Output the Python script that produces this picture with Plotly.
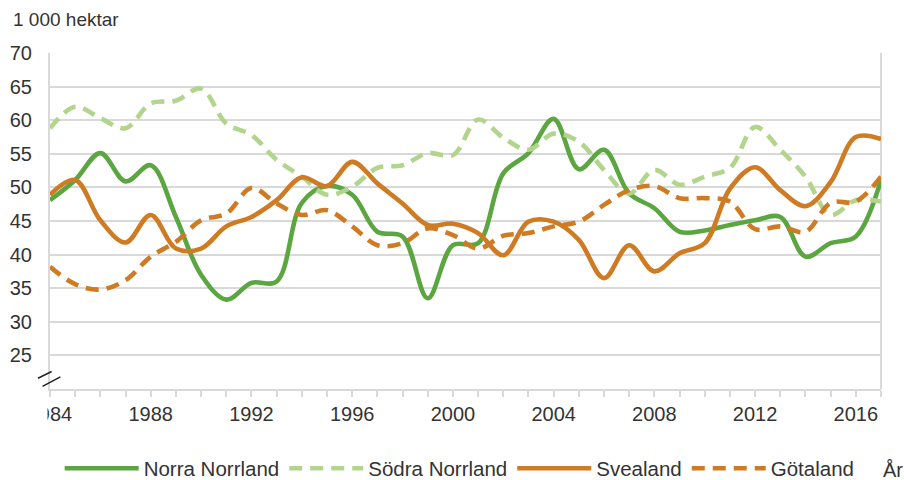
import plotly.graph_objects as go

years = list(range(1984, 2018))

norra_norrland = [48.1, 51.1, 55.1, 50.9, 53.3, 45.6, 37.0, 33.3, 35.8, 36.0,
                  47.7, 50.2, 48.9, 43.4, 42.7, 33.5, 41.4, 41.7, 52.1, 55.1,
                  60.2, 52.7, 55.6, 49.1, 46.9, 43.4, 43.6, 44.4, 45.1, 45.6,
                  39.7, 41.7, 42.7, 51.1]
sodra_norrland = [58.8, 62.0, 60.3, 58.8, 62.5, 62.9, 64.7, 59.5, 57.8, 54.1,
                  51.6, 48.9, 50.1, 52.9, 53.3, 55.1, 54.8, 60.1, 57.4, 55.6,
                  58.0, 56.8, 52.6, 49.1, 52.6, 50.4, 51.6, 52.9, 59.0, 55.6,
                  51.6, 45.9, 48.1, 47.9]
svealand = [48.9, 51.1, 45.1, 41.8, 45.9, 40.9, 40.9, 44.2, 45.6, 48.1,
            51.5, 50.2, 53.8, 50.6, 47.6, 44.4, 44.6, 43.2, 39.9, 44.9,
            44.9, 42.2, 36.5, 41.4, 37.5, 40.2, 41.7, 49.8, 53.0, 49.6,
            47.2, 50.8, 57.5, 57.2]
gotaland = [38.2, 35.6, 34.8, 36.2, 39.7, 41.9, 45.1, 46.1, 49.9, 47.6,
            45.9, 46.6, 44.2, 41.4, 41.7, 43.9, 42.9, 40.9, 42.8, 43.2,
            44.2, 44.9, 47.4, 49.6, 50.2, 48.4, 48.4, 47.9, 43.8, 44.2,
            43.4, 47.7, 47.9, 51.6]

series_names = ["Norra Norrland", "Södra Norrland", "Svealand", "Götaland"]
y_ticks = [25, 30, 35, 40, 45, 50, 55, 60, 65, 70]
x_ticks = list(range(1984, 2017, 4))

GREEN = "#5CA642"
LIGHT = "#B2D48C"
ORANGE = "#CF7B23"
TXT = "#333333"
GRID = "#D9D9D9"
FONT = "Liberation Sans, Arial, sans-serif"
FS = 20

fig = go.Figure()
styles = [(GREEN, "solid"), (LIGHT, "13px,8px"), (ORANGE, "solid"), (ORANGE, "13px,8px")]
for name, vals, (col, dash) in zip(series_names,
                                   [norra_norrland, sodra_norrland, svealand, gotaland],
                                   styles):
    fig.add_trace(go.Scatter(
        x=years, y=vals, name=name, mode="lines",
        line=dict(color=col, width=4.6, dash=dash, shape="spline", smoothing=1.0),
    ))

fig.update_layout(
    width=904, height=480,
    margin=dict(l=50, r=23, t=53, b=91, autoexpand=False),
    paper_bgcolor="white", plot_bgcolor="white",
    font=dict(family=FONT, size=FS, color=TXT),
    showlegend=True,
    legend=dict(orientation="h", xref="container", yref="container",
                x=0.066, xanchor="left", y=0.024, yanchor="middle",
                font=dict(size=20.5, color=TXT), itemwidth=74, tracegroupgap=0,
                bgcolor="rgba(0,0,0,0)"),
    xaxis=dict(range=[1984, 2017], tickvals=x_ticks, ticktext=[str(v) for v in x_ticks],
               automargin=False,
               showgrid=False, showline=True, linecolor=GRID, linewidth=2,
               ticks="outside", ticklen=6, tickcolor=GRID, tickwidth=2,
               minor=dict(dtick=1, tick0=1984, ticks="outside", ticklen=6,
                          tickcolor=GRID, tickwidth=2, showgrid=False),
               tickfont=dict(size=FS, color=TXT), zeroline=False, fixedrange=True),
    yaxis=dict(range=[20, 70], tickvals=y_ticks, showgrid=True, gridcolor=GRID, gridwidth=2,
               automargin=False,
               showline=True, linecolor=GRID, linewidth=2, mirror=False,
               ticks="", ticklabelstandoff=12, tickfont=dict(size=FS, color=TXT),
               zeroline=False, fixedrange=True),
)

# right border of the plot area
fig.add_shape(type="line", xref="paper", yref="paper", x0=1, x1=1, y0=0, y1=1,
              line=dict(color=GRID, width=2), layer="below")

# axis-break mark
fig.add_shape(type="line", xref="paper", yref="y", x0=-0.0145, x1=0.002, y0=21.6, y1=22.6,
              line=dict(color="#222222", width=1.5))
fig.add_shape(type="line", xref="paper", yref="y", x0=-0.009, x1=0.0125, y0=20.4, y1=21.8,
              line=dict(color="#222222", width=1.5))

# mask the left edge of the first year label (as in the original)
fig.add_shape(type="rect", xref="paper", yref="paper", x0=-0.07, x1=-0.003, y0=-0.03, y1=-0.14,
              fillcolor="white", line=dict(width=0), layer="above")

fig.add_annotation(text="1 000 hektar", xref="paper", yref="paper", x=-0.047, y=1.1,
                   xanchor="left", yanchor="middle", showarrow=False,
                   font=dict(size=19, color=TXT))
fig.add_annotation(text="År", xref="paper", yref="paper", x=1.0, y=-0.241,
                   xanchor="left", yanchor="middle", showarrow=False,
                   font=dict(size=FS, color=TXT))

fig.write_html("out.html", config={"displayModeBar": False},
               post_script="document.body.style.margin='0';document.body.style.overflow='hidden';")
